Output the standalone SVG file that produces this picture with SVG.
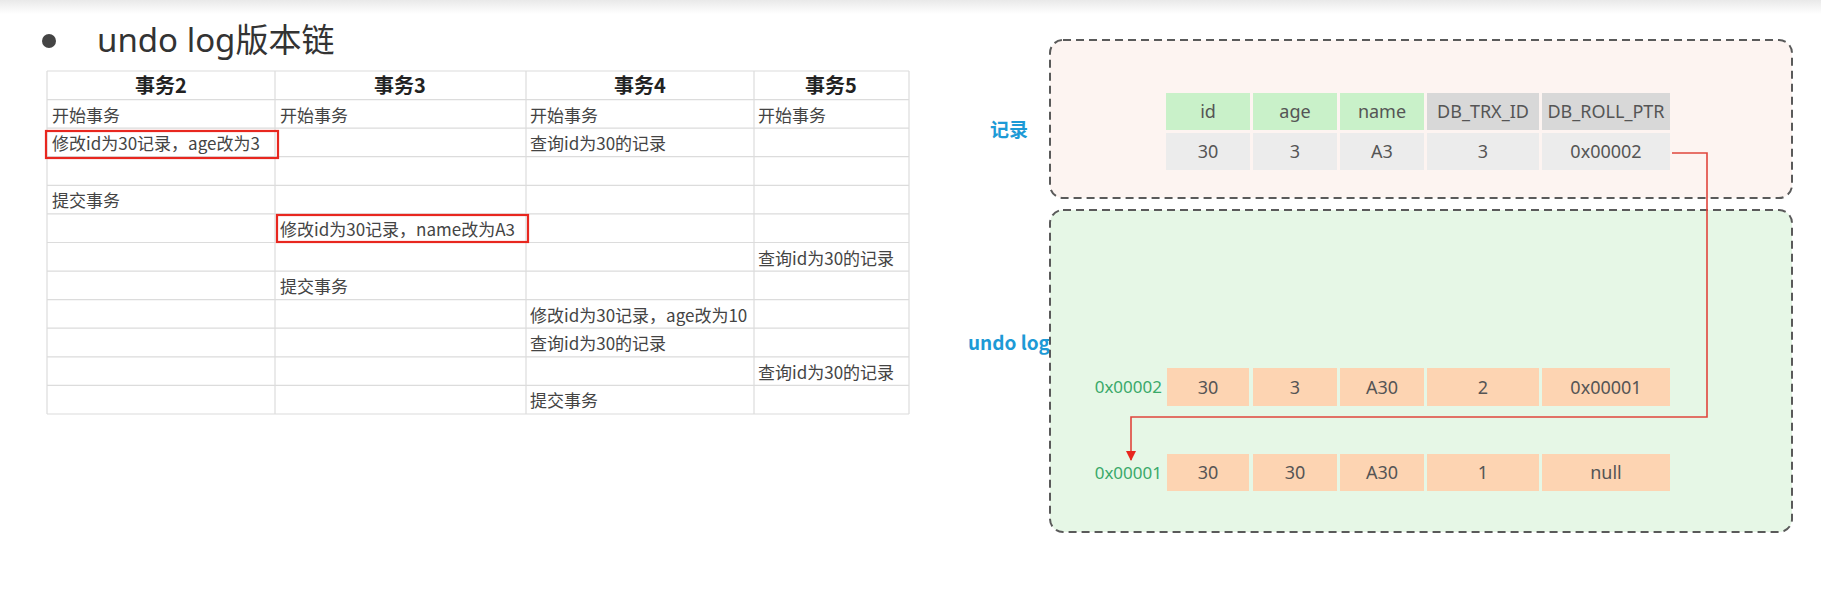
<svg xmlns="http://www.w3.org/2000/svg" width="1821" height="616" viewBox="0 0 1821 616">
  <defs>
    <linearGradient id="topShade" x1="0" y1="0" x2="0" y2="1">
      <stop offset="0" stop-color="#e9e9e9"/>
      <stop offset="1" stop-color="#ffffff"/>
    </linearGradient>
    <marker id="arrowRed" viewBox="0 0 10 10" refX="9" refY="5" markerWidth="10" markerHeight="10" markerUnits="userSpaceOnUse" orient="auto">
      <path d="M0,0 L10,5 L0,10 Z" fill="#e8271f"/>
    </marker>
  </defs>
  <style>
    .title { font-family: "Noto Sans", "Noto Sans CJK SC", sans-serif; font-size: 33px; fill: #333; }
    .th { font-family: "Noto Sans CJK SC", sans-serif; font-size: 20px; font-weight: bold; fill: #222; text-anchor: middle; }
    .td { font-family: "Noto Sans CJK SC", sans-serif; font-size: 17px; fill: #444; }
    .grid { stroke: #dcdcdc; stroke-width: 1.2; fill: none; }
    .hl { stroke: #e8271f; stroke-width: 2.2; fill: none; }
    .area { stroke: #5a5a5a; stroke-width: 2; stroke-dasharray: 8 5; }
    .lbl { font-family: "Noto Sans CJK SC", sans-serif; font-size: 19px; font-weight: bold; fill: #1d9ad6; }
    .addr { font-family: "Noto Sans", sans-serif; font-size: 17px; fill: #3aa96a; text-anchor: end; }
    .cell { font-family: "Noto Sans", sans-serif; font-size: 18px; fill: #555; text-anchor: middle; }
    .hGreen { fill: #c9f1c9; }
    .hGray { fill: #d8d8d8; }
    .dGray { fill: #ececec; }
    .peach { fill: #fdd4b2; }
    .link { stroke: #e0453d; stroke-width: 1.6; fill: none; }
  </style>

  <rect x="0" y="0" width="1821" height="616" fill="#ffffff"/>
  <rect x="0" y="0" width="1821" height="14" fill="url(#topShade)"/>

  <!-- heading -->
  <g id="heading">
    <circle cx="49" cy="41" r="7" fill="#444"/>
    <text class="title" x="97" y="52">undo log版本链</text>
  </g>

  <!-- transaction timeline table -->
  <g id="txn-table">
    <rect x="47" y="71" width="862" height="343" fill="#fff"/>
    <g class="grid">
      <path d="M47,71 H909 M47,99.6 H909 M47,128.2 H909 M47,156.7 H909 M47,185.3 H909 M47,213.9 H909 M47,242.5 H909 M47,271.1 H909 M47,299.6 H909 M47,328.2 H909 M47,356.8 H909 M47,385.4 H909 M47,414 H909"/>
      <path d="M47,71 V414 M275,71 V414 M526,71 V414 M754,71 V414 M909,71 V414"/>
    </g>
    <text class="th" x="161" y="93">事务2</text>
    <text class="th" x="400" y="93">事务3</text>
    <text class="th" x="640" y="93">事务4</text>
    <text class="th" x="831" y="93">事务5</text>

    <text class="td" x="52" y="121.5">开始事务</text>
    <text class="td" x="280" y="121.5">开始事务</text>
    <text class="td" x="530" y="121.5">开始事务</text>
    <text class="td" x="758" y="121.5">开始事务</text>

    <text class="td" x="52" y="150">修改id为30记录，age改为3</text>
    <text class="td" x="530" y="150">查询id为30的记录</text>

    <text class="td" x="52" y="207">提交事务</text>
    <text class="td" x="280" y="236">修改id为30记录，name改为A3</text>
    <text class="td" x="758" y="264.5">查询id为30的记录</text>
    <text class="td" x="280" y="293">提交事务</text>
    <text class="td" x="530" y="321.5">修改id为30记录，age改为10</text>
    <text class="td" x="530" y="350">查询id为30的记录</text>
    <text class="td" x="758" y="378.5">查询id为30的记录</text>
    <text class="td" x="530" y="407">提交事务</text>

    <rect class="hl" x="46" y="131" width="232" height="27"/>
    <rect class="hl" x="277" y="215" width="251" height="27"/>
  </g>

  <!-- current record area -->
  <g id="record-area">
    <rect class="area" x="1050" y="40" width="742" height="158" rx="13" fill="#fdf4f1"/>
    <text class="lbl" x="990" y="137">记录</text>
    <g id="record-header">
      <rect class="hGreen" x="1166" y="93" width="84" height="37"/>
      <rect class="hGreen" x="1253" y="93" width="84" height="37"/>
      <rect class="hGreen" x="1340" y="93" width="84" height="37"/>
      <rect class="hGray" x="1427" y="93" width="112" height="37"/>
      <rect class="hGray" x="1542" y="93" width="128" height="37"/>
      <text class="cell" x="1208" y="118">id</text>
      <text class="cell" x="1295" y="118">age</text>
      <text class="cell" x="1382" y="118">name</text>
      <text class="cell" x="1483" y="118">DB_TRX_ID</text>
      <text class="cell" x="1606" y="118">DB_ROLL_PTR</text>
    </g>
    <g id="record-row">
      <rect class="dGray" x="1166" y="133" width="84" height="37"/>
      <rect class="dGray" x="1253" y="133" width="84" height="37"/>
      <rect class="dGray" x="1340" y="133" width="84" height="37"/>
      <rect class="dGray" x="1427" y="133" width="112" height="37"/>
      <rect class="dGray" x="1542" y="133" width="128" height="37"/>
      <text class="cell" x="1208" y="158">30</text>
      <text class="cell" x="1295" y="158">3</text>
      <text class="cell" x="1382" y="158">A3</text>
      <text class="cell" x="1483" y="158">3</text>
      <text class="cell" x="1606" y="158">0x00002</text>
    </g>
  </g>

  <!-- undo log area -->
  <g id="undo-area">
    <text class="lbl" x="968" y="350">undo log</text>
    <rect class="area" x="1050" y="210" width="742" height="322" rx="13" fill="#e6f7e6"/>
    <g id="undo-0x00002">
      <text class="addr" x="1162" y="393">0x00002</text>
      <rect class="peach" x="1167" y="368" width="82" height="38"/>
      <rect class="peach" x="1253" y="368" width="84" height="38"/>
      <rect class="peach" x="1340" y="368" width="84" height="38"/>
      <rect class="peach" x="1427" y="368" width="112" height="38"/>
      <rect class="peach" x="1542" y="368" width="128" height="38"/>
      <text class="cell" x="1208" y="394">30</text>
      <text class="cell" x="1295" y="394">3</text>
      <text class="cell" x="1382" y="394">A30</text>
      <text class="cell" x="1483" y="394">2</text>
      <text class="cell" x="1606" y="394">0x00001</text>
    </g>
    <g id="undo-0x00001">
      <text class="addr" x="1162" y="479">0x00001</text>
      <rect class="peach" x="1167" y="454" width="82" height="37"/>
      <rect class="peach" x="1253" y="454" width="84" height="37"/>
      <rect class="peach" x="1340" y="454" width="84" height="37"/>
      <rect class="peach" x="1427" y="454" width="112" height="37"/>
      <rect class="peach" x="1542" y="454" width="128" height="37"/>
      <text class="cell" x="1208" y="479">30</text>
      <text class="cell" x="1295" y="479">30</text>
      <text class="cell" x="1382" y="479">A30</text>
      <text class="cell" x="1483" y="479">1</text>
      <text class="cell" x="1606" y="479">null</text>
    </g>
  </g>

  <!-- roll pointer chain -->
  <g id="connectors">
    <path class="link" d="M1672,153 H1707 V417 H1131 V460" marker-end="url(#arrowRed)"/>
  </g>
</svg>
